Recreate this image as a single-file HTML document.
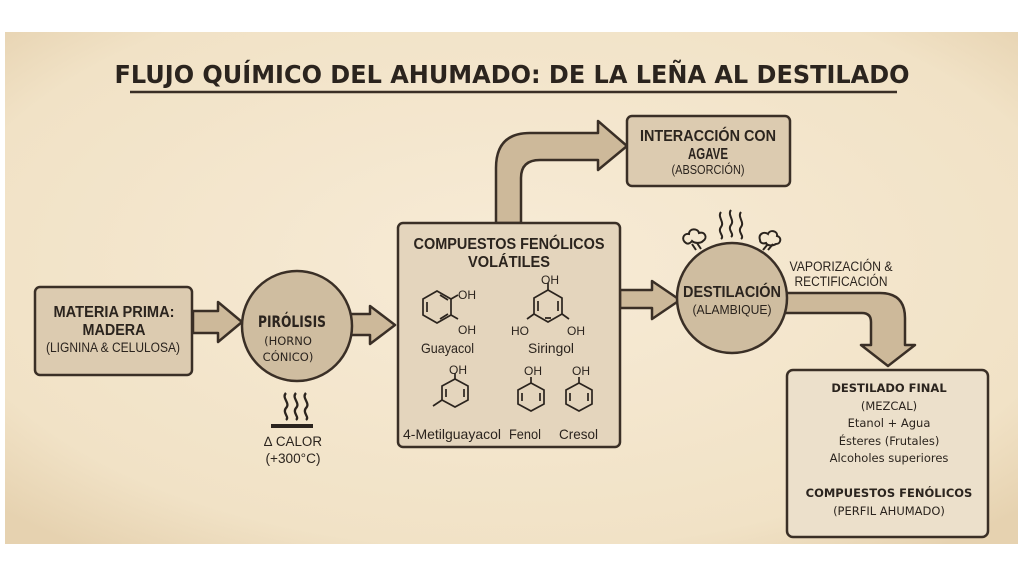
<!DOCTYPE html>
<html><head><meta charset="utf-8"><style>
html,body{margin:0;padding:0;background:#fff;width:1024px;height:576px;overflow:hidden}
svg{display:block}
.t{font-family:"Liberation Sans",sans-serif;fill:#2b241e}
.b{font-weight:bold}
.s{font-family:"DejaVu Sans","Liberation Sans",sans-serif;fill:#2b241e}
</style></head><body>
<svg width="1024" height="576" viewBox="0 0 1024 576">
<defs>
<radialGradient id="pg" cx="50%" cy="45%" r="70%"><stop offset="0" stop-color="#f7ebd6"/><stop offset="0.8" stop-color="#f1e2c6"/><stop offset="1" stop-color="#e6d2b0"/></radialGradient>
</defs>
<rect x="5" y="32" width="1013" height="512" fill="url(#pg)"/>
<text x="512" y="83" text-anchor="middle" class="s b" font-size="25" textLength="795" lengthAdjust="spacingAndGlyphs">FLUJO QUÍMICO DEL AHUMADO: DE LA LEÑA AL DESTILADO</text>
<line x1="130" y1="92" x2="897" y2="92" stroke="#3a2f26" stroke-width="2.5"/>

<g stroke="#3a2f26" stroke-width="2.5" stroke-linejoin="round">
<path d="M193,311 H218 V302 L242,322 L218,342 V333 H193 Z" fill="#cdb99a"/>
<path d="M350,314 H370 V306 L395,325 L370,344 V335 H350 Z" fill="#cdb99a"/>
<path d="M620,290 H652 V281 L680,300 L652,319 V308 H620 Z" fill="#cdb99a"/>
<path d="M496,223 V168 Q496,133 530,133 H598 V121 L627,146 L598,170 V160 H540 Q521,160 521,178 V223 Z" fill="#cdb99a"/>
<path d="M785,293 H880 Q905,293 905,318 V345 H915 L888,366 L861,345 H871 V322 Q871,313 862,313 H785 Z" fill="#cdb99a"/>
<rect x="35" y="287" width="157" height="88" rx="5" fill="#dccbb0"/>
<rect x="398" y="223" width="222" height="224" rx="5" fill="#e4d5bd"/>
<rect x="627" y="116" width="163" height="70" rx="5" fill="#dccbb0"/>
<rect x="787" y="370" width="201" height="167" rx="6" fill="#ece0cb"/>
<circle cx="297" cy="326" r="55" fill="#cfbda0"/>
<circle cx="732" cy="298" r="55" fill="#cfbda0"/>
</g>

<text x="114" y="317" text-anchor="middle" class="t b" font-size="16" textLength="121" lengthAdjust="spacingAndGlyphs">MATERIA PRIMA:</text>
<text x="114" y="335" text-anchor="middle" class="t b" font-size="16" textLength="63" lengthAdjust="spacingAndGlyphs">MADERA</text>
<text x="113" y="352" text-anchor="middle" class="t" font-size="13.5" textLength="134" lengthAdjust="spacingAndGlyphs">(LIGNINA &amp; CELULOSA)</text>
<text x="292" y="327" text-anchor="middle" class="s b" font-size="16" textLength="68" lengthAdjust="spacingAndGlyphs">PIRÓLISIS</text>
<text x="288" y="345" text-anchor="middle" class="s" font-size="11.5">(HORNO</text>
<text x="288" y="361" text-anchor="middle" class="s" font-size="11.5">CÓNICO)</text>
<g fill="none" stroke="#2b241e" stroke-width="2.3">
<path d="M286,393 c-5,5 5,10 0,15 c-4,5 4,9 0,12"/>
<path d="M296,393 c-5,5 5,10 0,15 c-4,5 4,9 0,12"/>
<path d="M306,393 c-5,5 5,10 0,15 c-4,5 4,9 0,12"/>
</g>
<rect x="271" y="424" width="42" height="4" fill="#2b241e"/>
<text x="293" y="446" text-anchor="middle" class="t" font-size="13.5" textLength="58" lengthAdjust="spacingAndGlyphs">∆ CALOR</text>
<text x="293" y="463" text-anchor="middle" class="t" font-size="13.5" textLength="55" lengthAdjust="spacingAndGlyphs">(+300°C)</text>

<text x="509" y="249" text-anchor="middle" class="t b" font-size="16" textLength="191" lengthAdjust="spacingAndGlyphs">COMPUESTOS FENÓLICOS</text>
<text x="509" y="267" text-anchor="middle" class="t b" font-size="16" textLength="82" lengthAdjust="spacingAndGlyphs">VOLÁTILES</text>
<g fill="none" stroke="#2b241e" stroke-width="1.7">
<!-- guayacol center 437,307 -->
<polygon points="437,291 451,299 451,315 437,323 423,315 423,299"/>
<path d="M427,302 V312 M440,295 L448,300 M440,319 L448,314"/>
<path d="M451,299 L458,295 M451,315 L458,319"/>
<!-- siringol center 548,306 -->
<polygon points="548,290 562,298 562,314 548,322 534,314 534,298"/>
<path d="M538,301 V311 M558,301 V311 M545,318 L551,318"/>
<path d="M548,290 V283 M534,314 L527,319 M562,314 L569,319"/>
<!-- metilguayacol center 455,393 -->
<polygon points="455,379 468,386 468,400 455,407 442,400 442,386"/>
<path d="M464,389 V397 M446,389 V397"/>
<path d="M455,379 V373 M442,400 L433,406"/>
<!-- fenol 531,397 -->
<polygon points="531,383 544,390 544,404 531,411 518,404 518,390"/>
<path d="M522,393 V401 M540,393 V401"/>
<path d="M531,383 V377"/>
<!-- cresol 579,397 -->
<polygon points="579,383 592,390 592,404 579,411 566,404 566,390"/>
<path d="M570,393 V401 M588,393 V401"/>
<path d="M579,383 V377"/>
</g>
<g class="t" font-size="12">
<text x="458" y="299">OH</text><text x="458" y="334">OH</text>
<text x="541" y="284">OH</text><text x="511" y="335">HO</text><text x="567" y="335">OH</text>
<text x="449" y="374">OH</text><text x="524" y="375">OH</text><text x="572" y="375">OH</text>
</g>
<g class="t" font-size="14">
<text x="421" y="353" textLength="53" lengthAdjust="spacingAndGlyphs">Guayacol</text>
<text x="528" y="353" textLength="46" lengthAdjust="spacingAndGlyphs">Siringol</text>
<text x="403" y="439" textLength="98" lengthAdjust="spacingAndGlyphs">4-Metilguayacol</text>
<text x="509" y="439" textLength="32" lengthAdjust="spacingAndGlyphs">Fenol</text>
<text x="559" y="439" textLength="39" lengthAdjust="spacingAndGlyphs">Cresol</text>
</g>

<text x="708" y="141" text-anchor="middle" class="t b" font-size="16" textLength="136" lengthAdjust="spacingAndGlyphs">INTERACCIÓN CON</text>
<text x="708" y="159" text-anchor="middle" class="t b" font-size="16" textLength="40" lengthAdjust="spacingAndGlyphs">AGAVE</text>
<text x="708" y="174" text-anchor="middle" class="t" font-size="12.5" textLength="73" lengthAdjust="spacingAndGlyphs">(ABSORCIÓN)</text>

<text x="732" y="297" text-anchor="middle" class="t b" font-size="16" textLength="98" lengthAdjust="spacingAndGlyphs">DESTILACIÓN</text>
<text x="732" y="314" text-anchor="middle" class="t" font-size="13" textLength="79" lengthAdjust="spacingAndGlyphs">(ALAMBIQUE)</text>
<g fill="none" stroke="#2b241e" stroke-width="2">
<path d="M721,212 c-4,5 4,10 0,15 c-4,5 4,9 0,12"/>
<path d="M731,210 c-4,5 4,10 0,15 c-4,5 4,9 0,12"/>
<path d="M741,212 c-4,5 4,10 0,15 c-4,5 4,9 0,12"/>
<path d="M686,243 c-5,-3 -3,-10 3,-9 c0,-6 9,-6 10,-1 c6,-2 9,5 4,8 c-3,3 -9,2 -11,0 c-2,3 -5,3 -6,2z"/>
<path d="M692,244 l4,6 M697,243 l4,6"/>
<path d="M760,240 c-2,-6 4,-9 8,-6 c2,-5 10,-3 9,2 c5,1 4,8 -1,8 c-3,2 -9,2 -10,-1 c-3,1 -6,0 -6,-3z"/>
<path d="M768,244 l-5,6 M773,244 l-5,6"/>
</g>
<text x="841" y="271" text-anchor="middle" class="t" font-size="13.5" textLength="103" lengthAdjust="spacingAndGlyphs">VAPORIZACIÓN &amp;</text>
<text x="841" y="286" text-anchor="middle" class="t" font-size="13.5" textLength="93" lengthAdjust="spacingAndGlyphs">RECTIFICACIÓN</text>

<g font-family="'DejaVu Sans','Liberation Sans',sans-serif" fill="#2b241e" text-anchor="middle">
<text x="889" y="392" font-size="11.5" font-weight="bold">DESTILADO FINAL</text>
<text x="889" y="410" font-size="11.5">(MEZCAL)</text>
<text x="889" y="427" font-size="11.5">Etanol + Agua</text>
<text x="889" y="445" font-size="11.5">Ésteres (Frutales)</text>
<text x="889" y="462" font-size="11.5">Alcoholes superiores</text>
<text x="889" y="497" font-size="11.5" font-weight="bold">COMPUESTOS FENÓLICOS</text>
<text x="889" y="515" font-size="11.5">(PERFIL AHUMADO)</text>
</g>
</svg>
</body></html>
